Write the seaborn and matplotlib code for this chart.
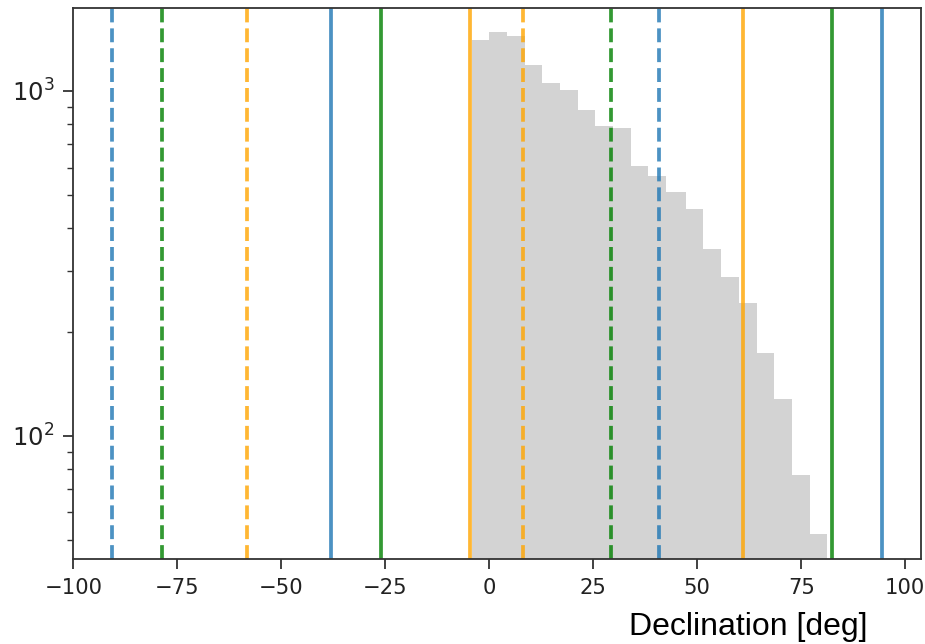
import numpy as np
import pandas as pd
import matplotlib
matplotlib.use("Agg")
import matplotlib.pyplot as plt
import seaborn as sns

# Histogram of source declinations (20 bins)
bin_edges = [-4.2, 0.0, 4.2, 8.6, 12.6, 17.0, 21.3, 25.4, 29.8, 34.1, 38.2,
             42.4, 47.4, 51.4, 55.7, 60.0, 64.4, 68.4, 72.8, 77.0, 81.1]
counts = [1409, 1483, 1441, 1193, 1057, 1005, 880, 790, 781, 605,
          566, 509, 454, 348, 288, 243, 174, 128, 77, 52]

# Visibility limits (vertical lines)
north_solid = {"blue": [-38.0, 94.5], "green": [-26.1, 82.3], "orange": [-4.6, 61.1]}
south_dashed = {"blue": [-90.8, 40.9], "green": [-78.7, 29.3], "orange": [-58.2, 8.0]}

xlabel = "Declination [deg]"

colors = {"blue": "tab:blue", "green": "green", "orange": "orange"}

centers = [(bin_edges[i] + bin_edges[i + 1]) / 2 for i in range(len(counts))]
df = pd.DataFrame({"dec": centers, "n": counts})

fig = plt.figure(figsize=(9.25, 6.44), dpi=100)
ax = fig.add_axes([73.3 / 925, 1 - 559.3 / 644, (920.7 - 73.3) / 925, (559.3 - 8) / 644])

sns.histplot(data=df, x="dec", weights="n", bins=bin_edges, ax=ax,
             color="lightgray", alpha=1.0, linewidth=0, element="bars",
             edgecolor="none")
ax.set_yscale("log")

for key in ["blue", "green", "orange"]:
    for v in south_dashed[key]:
        ax.axvline(v, color=colors[key], alpha=0.8, lw=2.7, ls="--")
    for v in north_solid[key]:
        ax.axvline(v, color=colors[key], alpha=0.8, lw=2.7, ls="-")

ax.set_xlim(-100, 103.7)
ax.set_ylim(43.9, 1740)
ax.set_xticks([-100, -75, -50, -25, 0, 25, 50, 75, 100])
ax.set_ylabel("")
ax.set_xlabel(xlabel, fontsize=23, family=["Liberation Sans", "DejaVu Sans"], va="center")
ax.xaxis.set_label_coords(0.796, -0.123)

ax.tick_params(axis="both", which="major", length=7.5, width=1.3,
               pad=6, color="#333333", labelcolor="#222222")
ax.tick_params(axis="x", which="major", labelsize=15.2)
ax.tick_params(axis="y", which="major", labelsize=17.5)
ax.tick_params(axis="both", which="minor", length=4.5, width=1.0, color="#333333")
for s in ax.spines.values():
    s.set_linewidth(1.3)
    s.set_color("#333333")

fig.savefig("out.png", dpi=100)
